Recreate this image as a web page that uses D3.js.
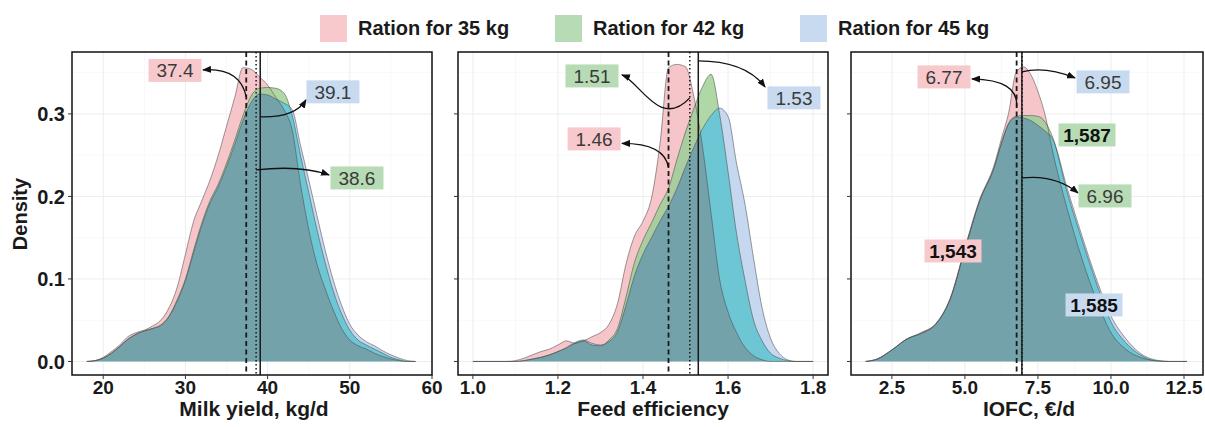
<!DOCTYPE html>
<html>
<head>
<meta charset="utf-8">
<script src="https://cdnjs.cloudflare.com/ajax/libs/d3/7.8.5/d3.min.js"></script>
<style>
  body { margin: 0; background: #fff; }
  text { font-family: "Liberation Sans", Arial, Helvetica, sans-serif; }
</style>
</head>
<body>
<svg id="chart" width="1205" height="427"></svg>
<script>
var groups = ["Ration for 35 kg", "Ration for 42 kg", "Ration for 45 kg"];
var legendFill = ["#f7c9cc", "#b7dbb4", "#c8daf0"];
// colour of each overlap, keyed by the groups that cover the spot
var regionFill = {"0": "#f6c5c9", "1": "#b0d7a6", "2": "#c6d8ef",
  "01": "#a9cd9e", "02": "#c2cadd", "12": "#6cc6d3", "012": "#74a2aa"};

// milk yield, kg/d
var milkX  = [18,19,20,21,22,23,24,25,26,27,28,29,30,31,32,33,34,35,36,37,38,39,40,41,42,43,44,45,46,47,48,49,50,51,52,53,54,55,56,57,58];
var milk35 = [0,.001,.005,.012,.02,.03,.035,.038,.043,.05,.065,.09,.13,.17,.195,.22,.25,.285,.32,.356,.354,.345,.335,.32,.305,.28,.215,.16,.118,.088,.062,.04,.026,.019,.015,.01,.006,.003,.001,0,0];
var milk42 = [0,.001,.004,.01,.018,.027,.033,.037,.04,.044,.055,.075,.10,.135,.168,.195,.215,.24,.268,.298,.322,.331,.332,.331,.325,.298,.25,.205,.16,.12,.085,.058,.038,.026,.02,.015,.01,.005,.002,0,0];
var milk45 = [0,.001,.004,.01,.018,.027,.033,.037,.04,.044,.054,.073,.098,.132,.165,.192,.212,.236,.263,.292,.314,.324,.323,.318,.313,.305,.262,.22,.177,.135,.098,.068,.045,.032,.024,.019,.013,.008,.004,.001,0];

// feed efficiency
var feedX  = [1.00,1.02,1.04,1.06,1.08,1.10,1.12,1.14,1.16,1.18,1.20,1.22,1.24,1.26,1.28,1.30,1.32,1.34,1.36,1.38,1.40,1.42,1.44,1.46,1.48,1.50,1.52,1.54,1.56,1.58,1.60,1.62,1.64,1.66,1.68,1.70,1.72,1.74,1.76,1.78,1.80];
var feed35 = [0,0,0,0,0,.001,.004,.008,.012,.015,.02,.025,.022,.025,.03,.035,.045,.07,.118,.152,.17,.198,.264,.356,.36,.357,.32,.26,.18,.10,.06,.035,.017,.007,.002,0,0,0,0,0,0];
var feed42 = [0,0,0,0,0,0,.001,.003,.005,.008,.012,.016,.022,.025,.02,.019,.026,.04,.078,.12,.147,.168,.19,.21,.245,.278,.307,.333,.348,.30,.23,.155,.098,.05,.025,.01,.004,.001,0,0,0];
var feed45 = [0,0,0,0,0,0,.001,.003,.005,.008,.012,.017,.023,.026,.022,.02,.024,.036,.068,.104,.13,.15,.17,.188,.21,.236,.26,.282,.298,.307,.297,.24,.19,.125,.065,.028,.01,.002,0,0,0];

// income over feed cost, euro/d
var iofcX  = [1.6,2,2.5,3,3.5,4,4.5,5,5.5,6,6.25,6.5,6.75,7,7.25,7.5,7.75,8,8.5,9,9.5,10,10.5,11,11.5,12,12.6];
var iofc35 = [0,.003,.014,.027,.035,.046,.077,.138,.196,.238,.27,.302,.35,.357,.348,.327,.298,.255,.185,.125,.075,.035,.015,.005,.001,0,0];
var iofc42 = [0,.003,.014,.027,.034,.045,.076,.136,.194,.235,.265,.289,.297,.298,.298,.297,.29,.272,.205,.148,.095,.048,.023,.008,.001,0,0];
var iofc45 = [0,.003,.014,.027,.034,.045,.076,.136,.194,.235,.264,.288,.296,.295,.292,.286,.279,.27,.21,.153,.1,.055,.028,.01,.002,0,0];

var yTicks = [0, 0.1, 0.2, 0.3];
var milkTicks = [20, 30, 40, 50, 60];
var feedTicks = [1.0, 1.2, 1.4, 1.6, 1.8];
var iofcTicks = [2.5, 5.0, 7.5, 10.0, 12.5];

var milkMeans = [37.4, 38.6, 39.1];
var feedMeans = [1.46, 1.51, 1.53];
var iofcMeans = [6.77, 6.96, 6.95];

var panels = [
  {x: milkX, ys: [milk35, milk42, milk45], dom: [16.2, 60], left: 72, right: 432,
   ticks: milkTicks, minor: [25, 35, 45, 55], fmt: d3.format("d"), title: "Milk yield, kg/d", titleDx: 2,
   means: milkMeans, yLabels: true,
   labels: [
     {t: "37.4", g: 0, x: 28.73, y: .3527},
     {t: "39.1", g: 2, x: 47.95, y: .3267},
     {t: "38.6", g: 1, x: 50.87, y: .2224}],
   arrows: [
     {from: [37.4, .3206], c: [36.64, .3564], to: [32.14, .3533]},
     {from: [39.1, .2964], c: [43.33, .2952], to: [44.67, .317]},
     {from: [38.6, .2321], c: [43.94, .2382], to: [47.47, .2261]}]},
  {x: feedX, ys: [feed35, feed42, feed45], dom: [0.965, 1.835], left: 458, right: 828,
   ticks: feedTicks, minor: [1.1, 1.3, 1.5, 1.7], fmt: d3.format(".1f"), title: "Feed efficiency", titleDx: 10,
   means: feedMeans, yLabels: false,
   labels: [
     {t: "1.51", g: 1, x: 1.280, y: .346},
     {t: "1.53", g: 2, x: 1.755, y: .3194},
     {t: "1.46", g: 0, x: 1.285, y: .2697}],
   arrows: [
     {from: [1.51, .3194], c: [1.440, .2806], c2: [1.393, .3388], to: [1.3506, .3473]},
     {from: [1.53, .3642], c: [1.640, .3642], to: [1.687, .3327]},
     {from: [1.46, .2345], c: [1.452, .2642], to: [1.3506, .2642]}]},
  {x: iofcX, ys: [iofc35, iofc42, iofc45], dom: [1.1, 13.15], left: 851, right: 1203,
   ticks: iofcTicks, minor: [3.75, 6.25, 8.75, 11.25], fmt: d3.format(".1f"), title: "IOFC, \u20ac/d", titleDx: 2,
   means: iofcMeans, yLabels: false,
   labels: [
     {t: "6.77", g: 0, x: 4.284, y: .3448},
     {t: "6.95", g: 2, x: 9.727, y: .3388},
     {t: "6.96", g: 1, x: 9.795, y: .2006},
     {t: "1,587", g: 1, x: 9.179, y: .2745, bold: true},
     {t: "1,543", g: 0, x: 4.592, y: .1339, bold: true},
     {t: "1,585", g: 2, x: 9.419, y: .0685, bold: true}],
   arrows: [
     {from: [6.77, .3085], c: [6.851, .3412], to: [5.242, .3424]},
     {from: [6.95, .3509], c: [7.741, .3582], to: [8.768, .3436]},
     {from: [6.96, .2224], c: [8.083, .2267], to: [8.871, .2042]}]}
];

var svg = d3.select("#chart");
var plotTop = 52, plotBottom = 375;
var y = d3.scaleLinear().domain([-0.0164, 0.375]).range([plotBottom, plotTop]);
var lineDash = ["5,3.5", "1.6,2.4", null];
var lineWidth = [1.8, 1.5, 1.5];

svg.append("defs").append("marker")
    .attr("id", "arrow")
    .attr("markerUnits", "userSpaceOnUse")
    .attr("markerWidth", 9).attr("markerHeight", 7)
    .attr("refX", 8).attr("refY", 3.5)
    .attr("orient", "auto")
  .append("path")
    .attr("d", "M0,0 L9,3.5 L0,7 Z")
    .attr("fill", "#111");

panels.forEach(function(P, pi) {
  var x = d3.scaleLinear().domain(P.dom).range([P.left, P.right]);
  var defs = svg.append("defs");
  defs.append("clipPath").attr("id", "frame" + pi)
    .append("rect").attr("x", P.left).attr("y", plotTop)
    .attr("width", P.right - P.left).attr("height", plotBottom - plotTop);

  var area = d3.area()
      .x(function(d, i) { return x(P.x[i]); })
      .y0(y(0))
      .y1(function(d) { return y(d); })
      .curve(d3.curveMonotoneX);
  var line = d3.line()
      .x(function(d, i) { return x(P.x[i]); })
      .y(function(d) { return y(d); })
      .curve(d3.curveMonotoneX);

  P.ys.forEach(function(s, si) {
    defs.append("clipPath").attr("id", "c" + pi + "-" + si)
      .append("path").attr("d", area(s));
  });

  var g = svg.append("g");

  // grid
  g.selectAll(".minx").data(P.minor).enter().append("line")
      .attr("x1", function(d) { return x(d); }).attr("x2", function(d) { return x(d); })
      .attr("y1", plotTop).attr("y2", plotBottom).attr("stroke", "#f5f5f5").attr("stroke-width", 0.7);
  g.selectAll(".miny").data([0.05, 0.15, 0.25, 0.35]).enter().append("line")
      .attr("x1", P.left).attr("x2", P.right)
      .attr("y1", function(d) { return y(d); }).attr("y2", function(d) { return y(d); })
      .attr("stroke", "#f5f5f5").attr("stroke-width", 0.7);
  g.selectAll(".majx").data(P.ticks).enter().append("line")
      .attr("x1", function(d) { return x(d); }).attr("x2", function(d) { return x(d); })
      .attr("y1", plotTop).attr("y2", plotBottom).attr("stroke", "#ededed").attr("stroke-width", 1);
  g.selectAll(".majy").data(yTicks).enter().append("line")
      .attr("x1", P.left).attr("x2", P.right)
      .attr("y1", function(d) { return y(d); }).attr("y2", function(d) { return y(d); })
      .attr("stroke", "#ededed").attr("stroke-width", 1);

  var plot = g.append("g").attr("clip-path", "url(#frame" + pi + ")");

  // single areas, then pair overlaps, then the triple overlap
  P.ys.forEach(function(s, si) {
    plot.append("path").attr("d", area(s)).attr("fill", regionFill[String(si)]);
  });
  [[0, 1], [0, 2], [1, 2]].forEach(function(pr) {
    plot.append("g").attr("clip-path", "url(#c" + pi + "-" + pr[0] + ")")
      .append("path").attr("d", area(P.ys[pr[1]]))
      .attr("fill", regionFill["" + pr[0] + pr[1]]);
  });
  plot.append("g").attr("clip-path", "url(#c" + pi + "-0)")
    .append("g").attr("clip-path", "url(#c" + pi + "-1)")
    .append("path").attr("d", area(P.ys[2])).attr("fill", regionFill["012"]);

  P.ys.forEach(function(s) {
    plot.append("path").attr("d", line(s))
      .attr("fill", "none").attr("stroke", "#4a4a4a")
      .attr("stroke-opacity", 0.55).attr("stroke-width", 1);
  });

  // mean lines
  P.means.forEach(function(m, mi) {
    plot.append("line")
      .attr("x1", x(m)).attr("x2", x(m)).attr("y1", plotTop).attr("y2", plotBottom)
      .attr("stroke", "#1a1a1a").attr("stroke-width", lineWidth[mi])
      .attr("stroke-dasharray", lineDash[mi]);
  });

  // frame
  g.append("rect").attr("x", P.left).attr("y", plotTop)
    .attr("width", P.right - P.left).attr("height", plotBottom - plotTop)
    .attr("fill", "none").attr("stroke", "#111").attr("stroke-width", 1.5);

  // axes ticks
  g.selectAll(".xt").data(P.ticks).enter().append("line")
      .attr("x1", function(d) { return x(d); }).attr("x2", function(d) { return x(d); })
      .attr("y1", plotBottom).attr("y2", plotBottom + 4).attr("stroke", "#333").attr("stroke-width", 1);
  g.selectAll(".xl").data(P.ticks).enter().append("text")
      .attr("x", function(d) { return x(d); }).attr("y", plotBottom + 19)
      .attr("text-anchor", "middle").attr("font-size", 19).attr("font-weight", "bold")
      .attr("fill", "#1a1a1a")
      .text(function(d) { return P.fmt(d); });
  g.selectAll(".yt").data(yTicks).enter().append("line")
      .attr("x1", P.left - 4).attr("x2", P.left)
      .attr("y1", function(d) { return y(d); }).attr("y2", function(d) { return y(d); })
      .attr("stroke", "#333").attr("stroke-width", 1);
  if (P.yLabels) {
    g.selectAll(".yl").data(yTicks).enter().append("text")
        .attr("x", P.left - 7).attr("y", function(d) { return y(d); })
        .attr("dy", "0.36em").attr("text-anchor", "end")
        .attr("font-size", 20).attr("font-weight", "bold").attr("fill", "#1a1a1a")
        .text(function(d) { return d3.format(".1f")(d); });
  }
  g.append("text")
    .attr("x", (P.left + P.right) / 2 + P.titleDx).attr("y", 416)
    .attr("text-anchor", "middle").attr("font-size", 21).attr("font-weight", "bold")
    .attr("fill", "#1a1a1a").text(P.title);

  // arrows
  P.arrows.forEach(function(a) {
    var p = d3.path();
    p.moveTo(x(a.from[0]), y(a.from[1]));
    if (a.c2) {
      p.bezierCurveTo(x(a.c[0]), y(a.c[1]), x(a.c2[0]), y(a.c2[1]), x(a.to[0]), y(a.to[1]));
    } else {
      p.quadraticCurveTo(x(a.c[0]), y(a.c[1]), x(a.to[0]), y(a.to[1]));
    }
    g.append("path").attr("d", p.toString())
      .attr("fill", "none").attr("stroke", "#111").attr("stroke-width", 1.3)
      .attr("marker-end", "url(#arrow)");
  });

  // labels
  P.labels.forEach(function(l) {
    var w = l.bold ? 57 : 53, h = 23;
    g.append("rect")
      .attr("x", x(l.x) - w / 2).attr("y", y(l.y) - h / 2)
      .attr("width", w).attr("height", h)
      .attr("fill", legendFill[l.g]);
    g.append("text")
      .attr("x", x(l.x)).attr("y", y(l.y)).attr("dy", "0.36em")
      .attr("text-anchor", "middle").attr("font-size", 19)
      .attr("font-weight", l.bold ? "bold" : "normal")
      .attr("fill", l.bold ? "#111" : "#3a3a3a")
      .text(l.t);
  });
});

svg.append("text")
  .attr("transform", "translate(27,214) rotate(-90)")
  .attr("text-anchor", "middle").attr("font-size", 20).attr("font-weight", "bold")
  .attr("fill", "#1a1a1a").text("Density");

// legend
var legendX = [320, 555, 800];
var leg = svg.selectAll(".leg").data(groups).enter().append("g")
  .attr("transform", function(d, i) { return "translate(" + legendX[i] + ",0)"; });
leg.append("rect").attr("x", 0).attr("y", 15).attr("width", 27).attr("height", 27)
  .attr("fill", function(d, i) { return legendFill[i]; });
leg.append("text").attr("x", 38).attr("y", 35)
  .attr("font-size", 20).attr("font-weight", "bold").attr("fill", "#1a1a1a")
  .text(function(d) { return d; });
</script>
</body>
</html>
